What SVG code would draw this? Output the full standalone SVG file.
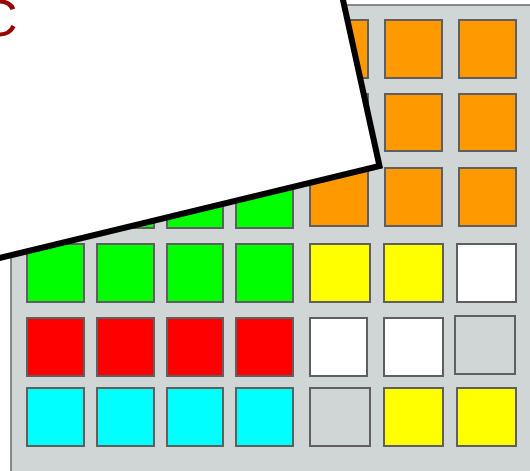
<svg xmlns="http://www.w3.org/2000/svg" width="530" height="471" viewBox="0 0 530 471">
<style>
.bg{fill:#d0d5d6;stroke:#6a6a6a;stroke-width:1.5}
.sq{stroke:#5f5f5f;stroke-width:2}
.o{fill:#ff9900}.g{fill:#00ff00}.r{fill:#ff0000}.c{fill:#00ffff}.y{fill:#ffff00}.w{fill:#ffffff}.e{fill:#d0d5d6}
.card{fill:#ffffff;stroke:#000000;stroke-width:6;stroke-linejoin:miter}
.lbl{font-family:"Liberation Sans",Arial,sans-serif;font-size:52px;fill:#990000}
</style>
<rect id="board" class="bg" x="11" y="5" width="540" height="480"/>
<g id="squares">
<rect id="s11" class="sq g" x="27" y="20" width="57" height="58"/>
<rect id="s12" class="sq g" x="97" y="20" width="57" height="58"/>
<rect id="s13" class="sq g" x="167" y="20" width="56" height="58"/>
<rect id="s14" class="sq g" x="236" y="20" width="57" height="58"/>
<rect id="s15" class="sq o" x="310" y="20" width="58" height="58"/>
<rect id="s16" class="sq o" x="385" y="20" width="57" height="58"/>
<rect id="s17" class="sq o" x="459" y="20" width="57" height="58"/>
<rect id="s21" class="sq g" x="27" y="94" width="57" height="57"/>
<rect id="s22" class="sq g" x="97" y="94" width="57" height="57"/>
<rect id="s23" class="sq g" x="167" y="94" width="56" height="57"/>
<rect id="s24" class="sq g" x="236" y="94" width="57" height="57"/>
<rect id="s25" class="sq o" x="310" y="94" width="58" height="57"/>
<rect id="s26" class="sq o" x="385" y="94" width="57" height="57"/>
<rect id="s27" class="sq o" x="459" y="94" width="57" height="57"/>
<rect id="s31" class="sq g" x="27" y="170" width="57" height="58"/>
<rect id="s32" class="sq g" x="97" y="170" width="57" height="58"/>
<rect id="s33" class="sq g" x="167" y="170" width="56" height="58"/>
<rect id="s34" class="sq g" x="236" y="170" width="57" height="58"/>
<rect id="s35" class="sq o" x="310" y="168" width="58" height="58"/>
<rect id="s36" class="sq o" x="385" y="168" width="57" height="58"/>
<rect id="s37" class="sq o" x="459" y="168" width="57" height="58"/>
<rect id="s41" class="sq g" x="27" y="244" width="57" height="58"/>
<rect id="s42" class="sq g" x="97" y="244" width="57" height="58"/>
<rect id="s43" class="sq g" x="167" y="244" width="56" height="58"/>
<rect id="s44" class="sq g" x="236" y="244" width="57" height="58"/>
<rect id="s45" class="sq y" x="310" y="244" width="60" height="58"/>
<rect id="s46" class="sq y" x="384" y="244" width="59" height="58"/>
<rect id="s47" class="sq w" x="457" y="244" width="59" height="58"/>
<rect id="s51" class="sq r" x="27" y="318" width="57" height="58"/>
<rect id="s52" class="sq r" x="97" y="318" width="57" height="58"/>
<rect id="s53" class="sq r" x="167" y="318" width="56" height="58"/>
<rect id="s54" class="sq r" x="236" y="318" width="57" height="58"/>
<rect id="s55" class="sq w" x="310" y="318" width="57" height="58"/>
<rect id="s56" class="sq w" x="384" y="318" width="59" height="58"/>
<rect id="s57" class="sq e" x="455" y="316" width="60" height="58"/>
<rect id="s61" class="sq c" x="27" y="388" width="57" height="58"/>
<rect id="s62" class="sq c" x="97" y="388" width="57" height="58"/>
<rect id="s63" class="sq c" x="167" y="388" width="56" height="58"/>
<rect id="s64" class="sq c" x="236" y="388" width="57" height="58"/>
<rect id="s65" class="sq e" x="310" y="388" width="60" height="58"/>
<rect id="s66" class="sq y" x="384" y="388" width="59" height="58"/>
<rect id="s67" class="sq y" x="457" y="388" width="59" height="58"/>
</g>
<g id="card">
<polygon class="card" points="379.5,166 340.8,-10 -20,-10 -20,262.8"/>
<text class="lbl" x="-20" y="36">C</text>
</g>
</svg>
